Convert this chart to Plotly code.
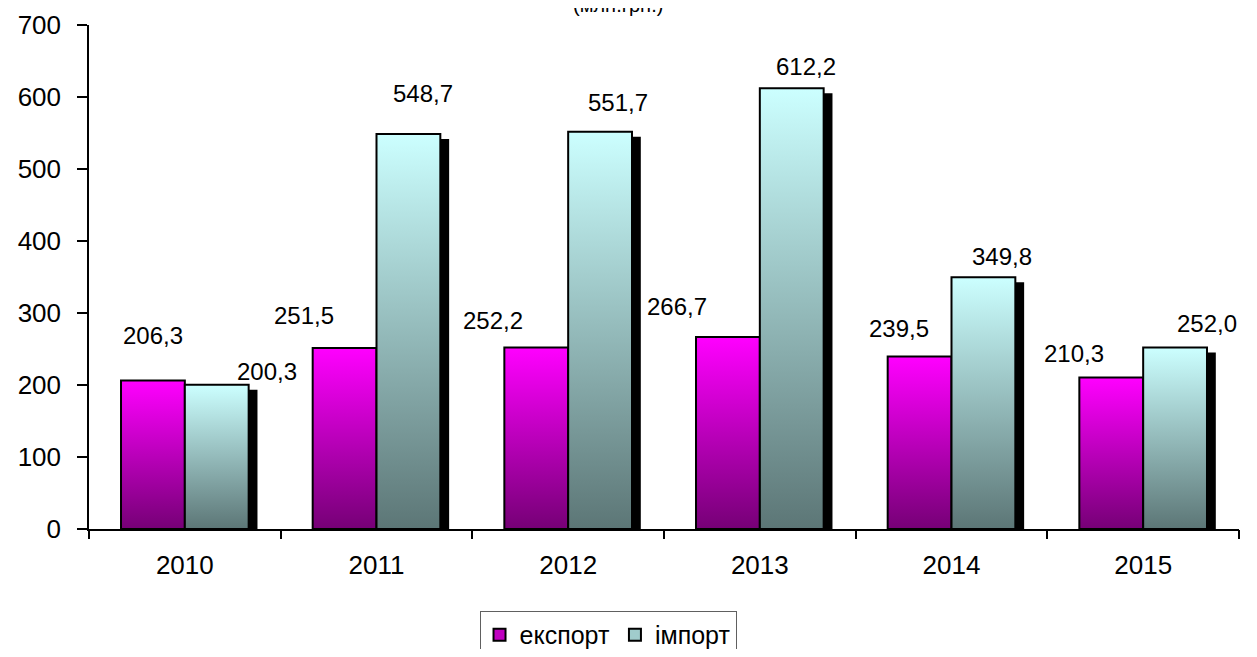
import plotly.graph_objects as go

# ---- data ----
years = ["2010", "2011", "2012", "2013", "2014", "2015"]
series_names = ["експорт", "імпорт"]
export_vals = [206.3, 251.5, 252.2, 266.7, 239.5, 210.3]
import_vals = [200.3, 548.7, 551.7, 612.2, 349.8, 252.0]
export_text = ["206,3", "251,5", "252,2", "266,7", "239,5", "210,3"]
import_text = ["200,3", "548,7", "551,7", "612,2", "349,8", "252,0"]
y_ticks = [0, 100, 200, 300, 400, 500, 600, 700]
unit_title = "(млн.грн.)"

# ---- styling / positions ----
FONT = "Liberation Sans, Arial, sans-serif"
BAR_W = 0.333
OFFSETS = [-0.1665, 0.1665]
SH_DX, SH_DY = 0.046, 7.0
export_scale = [[0, "#760076"], [1, "#ff00ff"]]
import_scale = [[0, "#5c7676"], [1, "#ccffff"]]
legend_colors = ["#c000c0", "#a0cccc"]
# label offsets (px) from the bar's top-centre: (dx, dy up)
export_lbl_off = [(0, 45), (-41, 32), (-43, 27), (-51, 30), (-21, 28), (-37, 24)]
import_lbl_off = [(50, 13), (15, 40), (18, 29), (14, 22), (19, 21), (32, 24)]

series = [
    (series_names[0], export_vals, export_text, export_scale, export_lbl_off, OFFSETS[0], legend_colors[0]),
    (series_names[1], import_vals, import_text, import_scale, import_lbl_off, OFFSETS[1], legend_colors[1]),
]

fig = go.Figure()

# shadows
for name, vals, _, _, _, off, _ in series:
    for i, v in enumerate(vals):
        x0 = i + off - BAR_W / 2 + SH_DX
        x1 = i + off + BAR_W / 2 + SH_DX
        fig.add_trace(go.Scatter(
            x=[x0, x0, x1, x1, x0], y=[0, v - SH_DY, v - SH_DY, 0, 0],
            mode="lines", fill="toself", fillcolor="black",
            line=dict(color="black", width=0), hoverinfo="skip", showlegend=False))

# bars (gradient-filled)
annotations = []
for name, vals, texts, scale, loff, off, _ in series:
    for i, v in enumerate(vals):
        xc = i + off
        x0 = xc - BAR_W / 2
        x1 = xc + BAR_W / 2
        fig.add_trace(go.Scatter(
            x=[x0, x0, x1, x1, x0], y=[0, v, v, 0, 0],
            mode="lines", fill="toself",
            fillgradient=dict(type="vertical", colorscale=scale, start=0, stop=v),
            line=dict(color="black", width=2),
            name=name, legendgroup=name, showlegend=False,
            hovertemplate=f"{years[i]}: {texts[i]}<extra>{name}</extra>"))
        annotations.append(dict(
            x=xc, y=v, xref="x", yref="y", text=texts[i], showarrow=False,
            xanchor="center", yanchor="middle",
            xshift=loff[i][0], yshift=loff[i][1],
            font=dict(family=FONT, size=24, color="black")))

# legend swatches
for name, _, _, _, _, _, col in series:
    fig.add_trace(go.Bar(
        x=[None], y=[None], name=name, legendgroup=name,
        marker=dict(color=col, line=dict(color="black", width=2))))

# helper trace for the boundary-tick axis
fig.add_trace(go.Scatter(x=[None], y=[None], xaxis="x2", showlegend=False, hoverinfo="skip"))

annotations.append(dict(
    x=0.46, y=1, xref="paper", yref="paper", text=unit_title, showarrow=False,
    xanchor="center", yanchor="middle", yshift=20,
    font=dict(family=FONT, size=20, color="black")))

fig.update_layout(
    width=1241, height=641,
    margin=dict(l=81, r=10, t=17, b=120),
    paper_bgcolor="white", plot_bgcolor="white",
    font=dict(family=FONT, size=24, color="black"),
    annotations=annotations,
    xaxis=dict(
        range=[-0.5, 5.5], tickmode="array", tickvals=list(range(len(years))),
        ticktext=years, ticks="", showgrid=False, zeroline=False, automargin=False,
        showline=True, linecolor="black", linewidth=1.5,
        tickfont=dict(family=FONT, size=26, color="black"), ticklabelstandoff=12),
    xaxis2=dict(
        overlaying="x", anchor="y", side="bottom", range=[-0.5, 5.5], automargin=False,
        tickmode="array", tickvals=[k - 0.5 for k in range(len(years) + 1)],
        ticks="outside", ticklen=9, tickwidth=1.5, tickcolor="black",
        showticklabels=False, showgrid=False, zeroline=False, showline=False),
    yaxis=dict(
        range=[0, 700], tickmode="array", tickvals=y_ticks, automargin=False,
        ticks="outside", ticklen=10, tickwidth=1.5, tickcolor="black",
        showgrid=False, zeroline=False, showline=True, linecolor="black", linewidth=1.5,
        tickfont=dict(family=FONT, size=26, color="black"), ticklabelstandoff=11),
    legend=dict(
        orientation="h", xref="container", yref="container",
        x=0.4835, xanchor="center", y=0.0593, yanchor="top",
        bordercolor="#606060", borderwidth=1, bgcolor="white",
        font=dict(family=FONT, size=25, color="black"), itemwidth=30),
    showlegend=True,
)

fig.write_html("out.html")
